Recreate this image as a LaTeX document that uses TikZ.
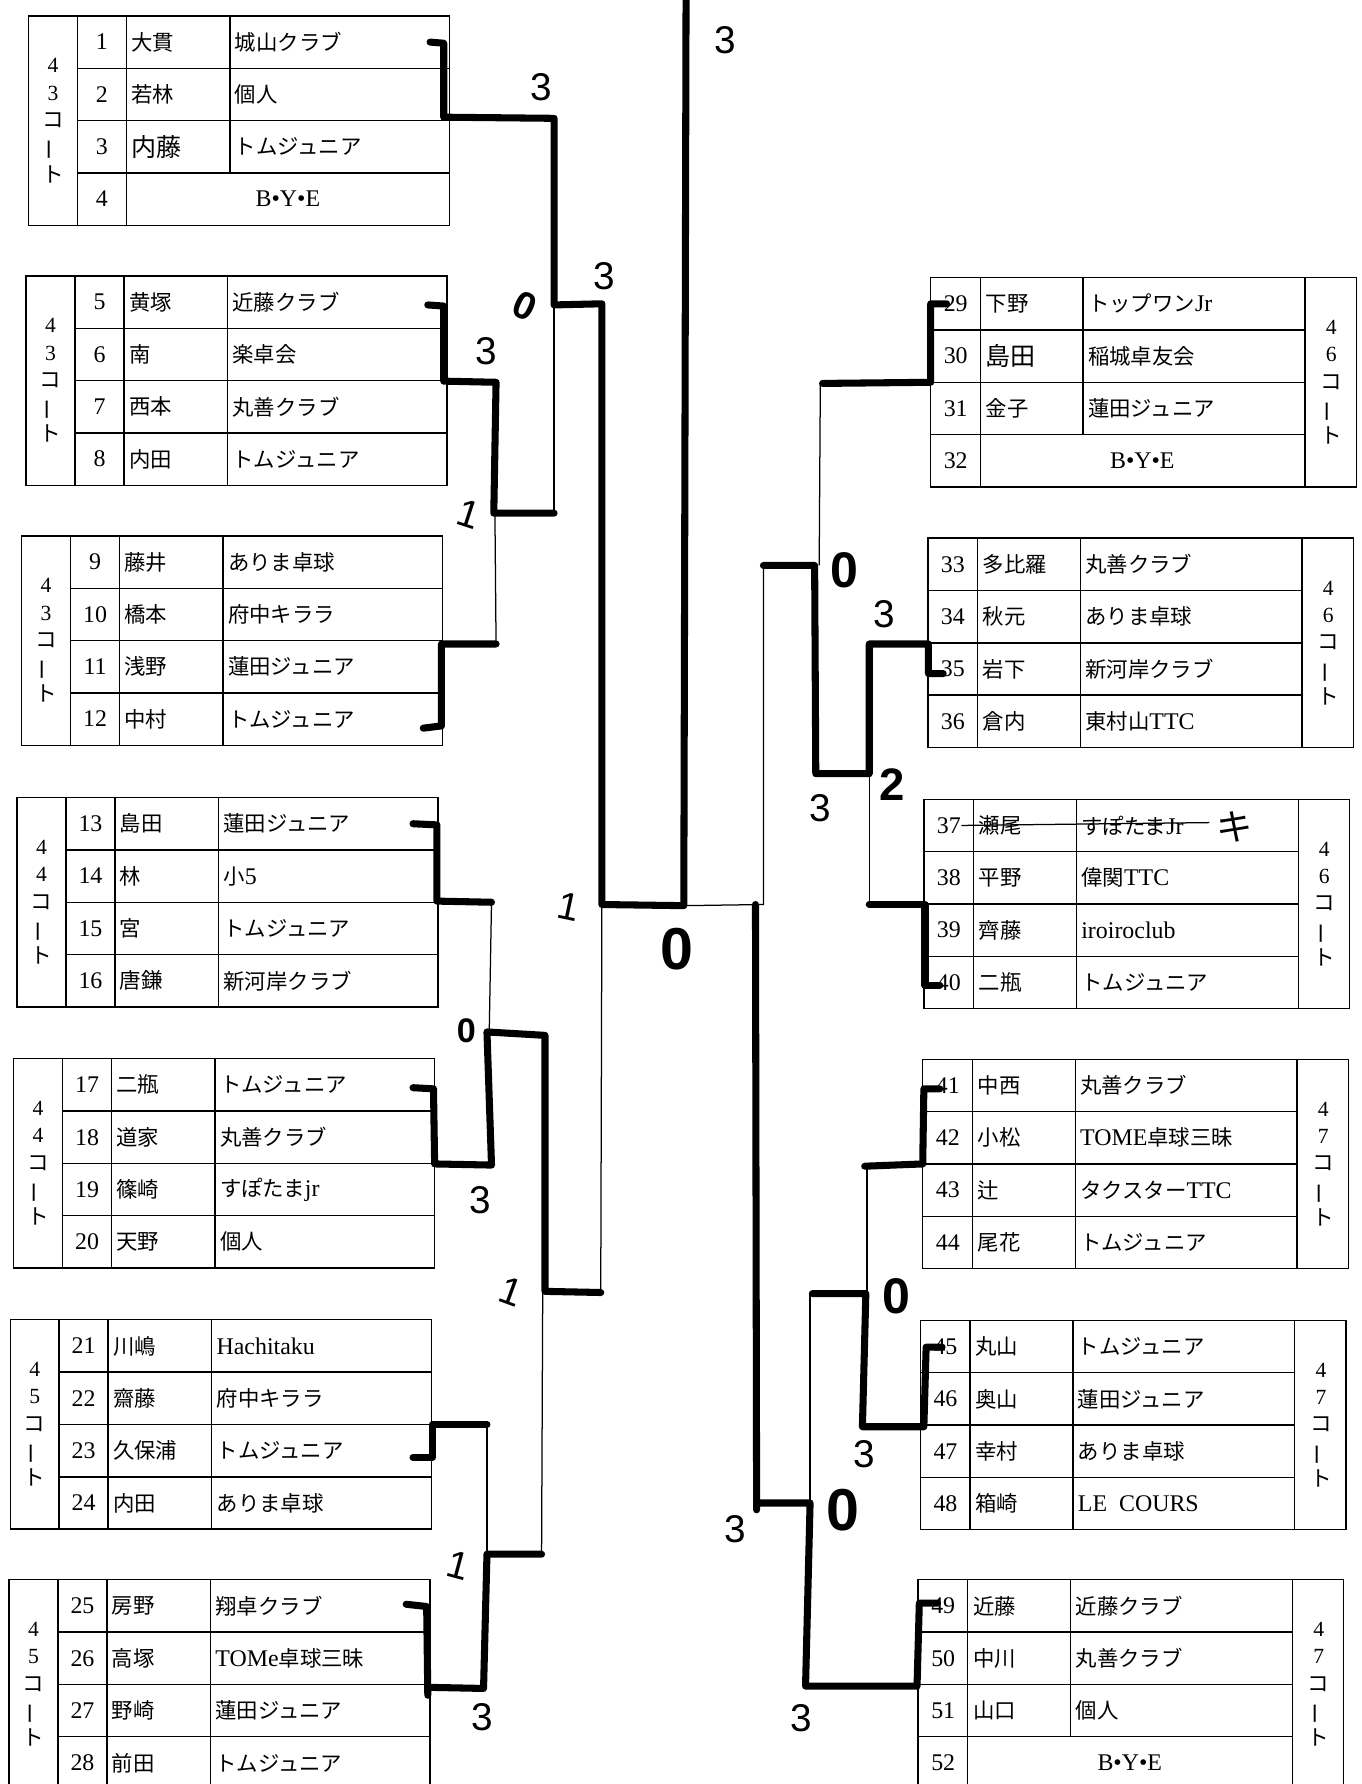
\documentclass[tikz,border=0pt]{standalone}
\usepackage{fontspec}
\usepackage{graphicx}
\setmainfont{Liberation Serif}
\newfontfamily\jp{Noto Sans CJK JP}
\newfontfamily\hand{Liberation Sans}
\newcommand{\lat}[1]{{\rmfamily\fontsize{10.5}{12}\selectfont #1}}
\newcommand{\CourtLbl}[1]{4\\#1\\{\jp コ}\\\rotatebox[origin=c]{90}{\jp ー}\\{\jp ト}}
\tikzset{
 tbl/.style={line width=0.6pt, black},
 tline/.style={line width=0.55pt, black},
 win/.style={line width=3.1pt, black, line join=round, line cap=round},
 numtxt/.style={font=\rmfamily\fontsize{10.5}{12}\selectfont, inner sep=0pt},
 nametxt/.style={font=\jp\fontsize{9.4}{11}\selectfont, anchor=west, inner sep=0pt},
 clubtxt/.style={font=\jp\fontsize{9.4}{11}\selectfont, anchor=west, inner sep=0pt},
 courttxt/.style={align=center, inner sep=0pt, font=\rmfamily\fontsize{9.5}{12}\selectfont},
 score/.style={font=\hand\fontsize{17}{17}\selectfont, inner sep=0pt},
 bscore/.style={font=\hand\bfseries\fontsize{22}{22}\selectfont, inner sep=0pt},
}
\newcommand{\LBlock}[4]{%
  \draw[tbl] (#1,#2) rectangle ++(370,184);
  \draw[tbl] (#1+43,#2) -- ++(0,184);
  \draw[tbl] (#1+86,#2) -- ++(0,184);
  \foreach \k in {1,2,3}{\draw[tbl] (#1+43,#2+46*\k) -- (#1+370,#2+46*\k);}
  \node[courttxt] (#4) at (#1+21.5,#2+92) {\CourtLbl{#3}};
}
\newcommand{\LRow}[6]{%
  \draw[tbl] (#1+177,#2+46*#3) -- ++(0,46);
  \node[numtxt] (n#4) at (#1+64.5,#2+23+46*#3) {#4};
  \node[nametxt] (a#4) at (#1+90,#2+23+46*#3) {#5};
  \node[clubtxt] (c#4) at (#1+181,#2+23+46*#3) {#6};
}
\newcommand{\LBye}[4]{%
  \node[numtxt] (n#4) at (#1+64.5,#2+23+46*#3) {#4};
  \node[numtxt] (b#4) at (#1+228,#2+23+46*#3) {B•Y•E};
}
\newcommand{\RBlock}[4]{%
  \draw[tbl] (#1,#2) rectangle ++(374,184);
  \draw[tbl] (#1+43.5,#2) -- ++(0,184);
  \draw[tbl] (#1+329,#2) -- ++(0,184);
  \foreach \k in {1,2,3}{\draw[tbl] (#1,#2+46*\k) -- (#1+329,#2+46*\k);}
  \node[courttxt] (#4) at (#1+352,#2+92) {\CourtLbl{#3}};
}
\newcommand{\RRow}[6]{%
  \draw[tbl] (#1+134,#2+46*#3) -- ++(0,46);
  \node[numtxt] (n#4) at (#1+22,#2+23+46*#3) {#4};
  \node[nametxt] (a#4) at (#1+48,#2+23+46*#3) {#5};
  \node[clubtxt] (c#4) at (#1+138,#2+23+46*#3) {#6};
}
\newcommand{\RBye}[4]{%
  \node[numtxt] (n#4) at (#1+22,#2+23+46*#3) {#4};
  \node[numtxt] (b#4) at (#1+186,#2+23+46*#3) {B•Y•E};
}
\begin{document}
\begin{tikzpicture}[x=0.5pt,y=-0.5pt]
\fill[white] (0,0) rectangle (1197,1568);
\useasboundingbox (0,0) rectangle (1197,1568);
% ---------- left blocks ----------
\LBlock{25}{14}{3}{ctL1}
\LRow{25}{14}{0}{1}{大貫}{城山クラブ}
\LRow{25}{14}{1}{2}{若林}{個人}
\LRow{25}{14}{2}{3}{\fontsize{11}{12}\selectfont 内藤}{トムジュニア}
\LBye{25}{14}{3}{4}
\LBlock{23}{242.5}{3}{ctL2}
\LRow{23}{242.5}{0}{5}{黄塚}{近藤クラブ}
\LRow{23}{242.5}{1}{6}{南}{楽卓会}
\LRow{23}{242.5}{2}{7}{西本}{丸善クラブ}
\LRow{23}{242.5}{3}{8}{内田}{トムジュニア}
\LBlock{19}{471}{3}{ctL3}
\LRow{19}{471}{0}{9}{藤井}{ありま卓球}
\LRow{19}{471}{1}{10}{橋本}{府中キララ}
\LRow{19}{471}{2}{11}{浅野}{蓮田ジュニア}
\LRow{19}{471}{3}{12}{中村}{トムジュニア}
\LBlock{15}{701}{4}{ctL4}
\LRow{15}{701}{0}{13}{島田}{蓮田ジュニア}
\LRow{15}{701}{1}{14}{林}{小\lat{5}}
\LRow{15}{701}{2}{15}{宮}{トムジュニア}
\LRow{15}{701}{3}{16}{唐鎌}{新河岸クラブ}
\LBlock{12}{930.5}{4}{ctL5}
\LRow{12}{930.5}{0}{17}{二瓶}{トムジュニア}
\LRow{12}{930.5}{1}{18}{道家}{丸善クラブ}
\LRow{12}{930.5}{2}{19}{篠崎}{すぽたま\lat{jr}}
\LRow{12}{930.5}{3}{20}{天野}{個人}
\LBlock{9}{1160}{5}{ctL6}
\LRow{9}{1160}{0}{21}{川嶋}{\lat{Hachitaku}}
\LRow{9}{1160}{1}{22}{齋藤}{府中キララ}
\LRow{9}{1160}{2}{23}{久保浦}{トムジュニア}
\LRow{9}{1160}{3}{24}{内田}{ありま卓球}
\LBlock{8}{1388.5}{5}{ctL7}
\LRow{8}{1388.5}{0}{25}{房野}{翔卓クラブ}
\LRow{8}{1388.5}{1}{26}{高塚}{\lat{TOMe}卓球三昧}
\LRow{8}{1388.5}{2}{27}{野崎}{蓮田ジュニア}
\LRow{8}{1388.5}{3}{28}{前田}{トムジュニア}
% ---------- right blocks ----------
\RBlock{818}{244}{6}{ctR1}
\RRow{818}{244}{0}{29}{下野}{トップワン\lat{Jr}}
\RRow{818}{244}{1}{30}{\fontsize{11}{12}\selectfont 島田}{稲城卓友会}
\RRow{818}{244}{2}{31}{金子}{蓮田ジュニア}
\RBye{818}{244}{3}{32}
\RBlock{815.5}{473}{6}{ctR2}
\RRow{815.5}{473}{0}{33}{多比羅}{丸善クラブ}
\RRow{815.5}{473}{1}{34}{秋元}{ありま卓球}
\RRow{815.5}{473}{2}{35}{岩下}{新河岸クラブ}
\RRow{815.5}{473}{3}{36}{倉内}{東村山\lat{TTC}}
\RBlock{812}{702.5}{6}{ctR3}
\RRow{812}{702.5}{0}{37}{瀬尾}{すぽたま\lat{Jr}}
\RRow{812}{702.5}{1}{38}{平野}{偉関\lat{TTC}}
\RRow{812}{702.5}{2}{39}{齊藤}{\lat{iroiroclub}}
\RRow{812}{702.5}{3}{40}{二瓶}{トムジュニア}
\RBlock{811}{931}{7}{ctR4}
\RRow{811}{931}{0}{41}{中西}{丸善クラブ}
\RRow{811}{931}{1}{42}{小松}{\lat{TOME}卓球三昧}
\RRow{811}{931}{2}{43}{辻}{タクスター\lat{TTC}}
\RRow{811}{931}{3}{44}{尾花}{トムジュニア}
\RBlock{809}{1160.5}{7}{ctR5}
\RRow{809}{1160.5}{0}{45}{丸山}{トムジュニア}
\RRow{809}{1160.5}{1}{46}{奥山}{蓮田ジュニア}
\RRow{809}{1160.5}{2}{47}{幸村}{ありま卓球}
\RRow{809}{1160.5}{3}{48}{箱崎}{\lat{LE\ \ COURS}}
\RBlock{807}{1388.5}{7}{ctR6}
\RRow{807}{1388.5}{0}{49}{近藤}{近藤クラブ}
\RRow{807}{1388.5}{1}{50}{中川}{丸善クラブ}
\RRow{807}{1388.5}{2}{51}{山口}{個人}
\RBye{807}{1388.5}{3}{52}
% strike-through of entry 37
\draw[tline] (n37.east) -- (1063,723);
\node[font=\jp\fontsize{16}{16}\selectfont, inner sep=0pt] (kiken) at (1085,727) {キ};
% ---------- left bracket ----------
\draw[win] (378,37) -- (390,38) -- (390,103) -- (487,104) -- (487,268) -- (529,267) -- (529,795) -- (601,796) -- (603,-6);
\draw[tline] (487,268) -- (487,451);
\draw[win] (376,268) -- (390,269) -- (390,335) -- (436,336) -- (434,451) -- (487,451);
\draw[tline] (435,451) -- (436,566);
\draw[win] (372,640) -- (388,638) -- (388,566) -- (436,566);
\draw[win] (363,724) -- (384,725) -- (384,792) -- (432,793);
\draw[tline] (432,793) -- (430,907);
\draw[win] (363,956) -- (381,957) -- (382,1023) -- (432,1024) -- (428,907) -- (479,910) -- (479,1135) -- (528,1136);
\draw[tline] (529,795) -- (528,1136);
\draw[tline] (477,1136) -- (476,1366);
\draw[win] (363,1281) -- (380,1281) -- (380,1252) -- (428,1252);
\draw[tline] (428,1252) -- (428,1366);
\draw[win] (357,1410) -- (375,1412) -- (376,1490);
\draw[win] (376,1483) -- (425,1484) -- (428,1366) -- (476,1366);
% ---------- right bracket ----------
\draw[win] (832,267) -- (818,267) -- (818,336) -- (723,337);
\draw[tline] (721,337) -- (720,497);
\draw[win] (829,592) -- (816,592) -- (816,566) -- (764,566) -- (764,680) -- (717,680) -- (716,497) -- (671,497);
\draw[tline] (671,497) -- (671,795) -- (601,796);
\draw[tline] (764,680) -- (764,795);
\draw[win] (764,795) -- (813,795) -- (813,866) -- (826,866);
\draw[win] (664,795) -- (665,1327);
\draw[win] (826,957) -- (812,957) -- (811,1023) -- (760,1025);
\draw[tline] (762,1025) -- (762,1137);
\draw[win] (828,1184) -- (814,1184) -- (812,1254) -- (758,1254) -- (761,1137) -- (714,1137);
\draw[tline] (712,1137) -- (712,1321);
\draw[win] (824,1409) -- (808,1409) -- (806,1482) -- (708,1482) -- (712,1321) -- (665,1321);
% ---------- scores ----------
\node[score] (s1) at (476,77) {3};
\node[score] (s2) at (531,243) {3};
\node[bscore, font=\hand\bfseries\fontsize{17}{17}\selectfont, rotate=-25] (s3) at (461,269) {0};
\node[score] (s4) at (427,309) {3};
\node[score, rotate=-18] (s5) at (412,452) {1};
\node[score, rotate=-12] (s6) at (500,797) {1};
\node[bscore, font=\hand\bfseries\fontsize{26}{26}\selectfont] (s7) at (595,834) {0};
\node[bscore, font=\hand\bfseries\fontsize{15}{15}\selectfont] (s8) at (410,906) {0};
\node[score] (s9) at (422,1055) {3};
\node[score, rotate=-20] (s10) at (449,1135) {1};
\node[score, rotate=-15] (s11) at (403,1376) {1};
\node[score] (s12) at (424,1509) {3};
\node[score] (s13) at (637,35) {3};
\node[bscore] (s14) at (742,501) {0};
\node[score] (s15) at (777,540) {3};
\node[bscore, font=\hand\bfseries\fontsize{20}{20}\selectfont] (s16) at (784,690) {2};
\node[score] (s17) at (721,710) {3};
\node[bscore] (s18) at (788,1139) {0};
\node[score] (s19) at (760,1278) {3};
\node[score] (s20) at (646,1344) {3};
\node[bscore, font=\hand\bfseries\fontsize{26}{26}\selectfont] (s21) at (741,1327) {0};
\node[score] (s22) at (704,1510) {3};
\end{tikzpicture}
\end{document}
